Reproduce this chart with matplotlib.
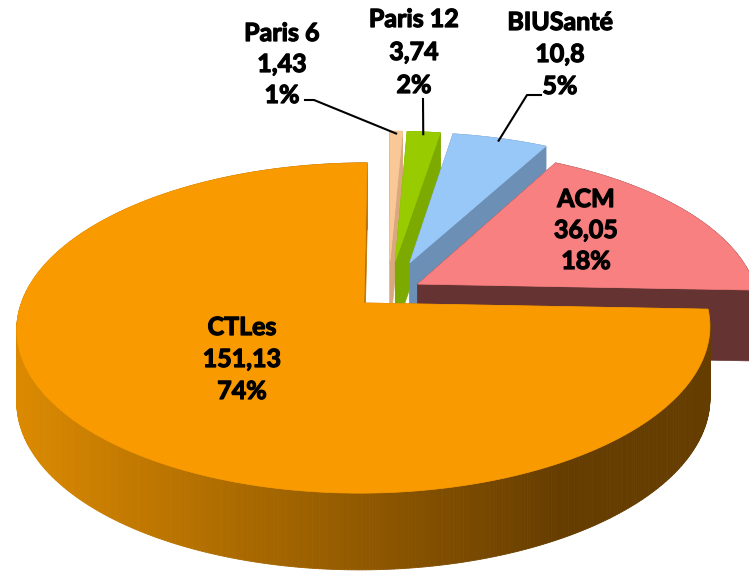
import numpy as np
import matplotlib.pyplot as plt
import matplotlib.patheffects as pe
from matplotlib.patches import Polygon

# data (order counter-clockwise from 12 o'clock)
labels = ["CTLes", "ACM", "BIUSanté", "Paris 12", "Paris 6"]
values = [151.13, 36.05, 10.8, 3.74, 1.43]
value_text = ["151,13", "36,05", "10,8", "3,74", "1,43"]
explode = [0.1, 0.1, 0.2, 0.2, 0.2]

top_colors = ["#F99A00", "#F98080", "#98C8F8", "#99CC00", "#FAC796"]
side_colors = ["#B86E00", "#663333", "#6C8FB6", "#7DAA00", "#D9A87F"]

# projection of the tilted disc (perspective) into pixel space
X0, Y0 = 388.6, 291.9
A, B, K = 339.0, 158.0, 0.15
D0, KD = 71.0, 0.07


def proj(u, v, h=0.0):
    w = 1 + K * v
    return X0 + A * u / w, Y0 - B * v / w + h * D0 / (1 + KD * v)


def face_visible(px, pv, nx, nv):
    # camera sits in front of the disc (v -> -1/K)
    return nx * (0 - px) + nv * (-1 / K - pv) > 0


def wall_color(x):
    c1 = np.array([0xDC, 0x8A, 0x00]) / 255
    c2 = np.array([0x66, 0x3D, 0x00]) / 255
    t = np.clip((x - 15) / (560 - 15), 0, 1)
    return tuple(c1 + (c2 - c1) * t)


fig = plt.figure(figsize=(7.49, 5.72), dpi=100)
ax = fig.add_axes([0, 0, 1, 1])
ax.set_xlim(0, 749)
ax.set_ylim(572, 0)
ax.axis("off")

total = sum(values)
angles = []
start = 90.0
for val in values:
    span = val / total * 360
    angles.append((start, start + span))
    start += span

slices = []
for i, (a1, a2) in enumerate(angles):
    mid = np.radians((a1 + a2) / 2)
    ou, ov = explode[i] * np.cos(mid), explode[i] * np.sin(mid)
    slices.append((i, a1, a2, ou, ov))

# far slices first
slices.sort(key=lambda s: -s[4])

for i, a1, a2, ou, ov in slices:
    th = np.radians(np.linspace(a1, a2, max(int(a2 - a1) * 2, 4)))
    ru = ou + np.cos(th)
    rv = ov + np.sin(th)

    back, front = [], []
    # cut faces
    for ang, sgn in ((a1, 1), (a2, -1)):
        t = np.radians(ang)
        nx, nv = sgn * np.sin(t), -sgn * np.cos(t)
        pu, pv = ou + 0.5 * np.cos(t), ov + 0.5 * np.sin(t)
        ex, ev = ou + np.cos(t), ov + np.sin(t)
        quad = [proj(ou, ov), proj(ex, ev), proj(ex, ev, 1), proj(ou, ov, 1)]
        if face_visible(pu, pv, nx, nv):
            front.append(quad)
        else:
            back.append(quad)

    for quad in back:
        ax.add_patch(Polygon(quad, closed=True, fc=side_colors[i],
                             ec=side_colors[i], lw=0.5))

    # outer wall, back to front
    segs = []
    for j in range(len(th) - 1):
        q = [proj(ru[j], rv[j]), proj(ru[j + 1], rv[j + 1]),
             proj(ru[j + 1], rv[j + 1], 1), proj(ru[j], rv[j], 1)]
        segs.append(((rv[j] + rv[j + 1]) / 2, q))
    segs.sort(key=lambda s: -s[0])
    for _, q in segs:
        if i == 0:
            col = wall_color((q[0][0] + q[1][0]) / 2)
        else:
            col = side_colors[i]
        ax.add_patch(Polygon(q, closed=True, fc=col, ec=col, lw=0.6))

    for quad in front:
        ax.add_patch(Polygon(quad, closed=True, fc=side_colors[i],
                             ec=side_colors[i], lw=0.5))

    pts = [proj(ou, ov)] + [proj(u, v) for u, v in zip(ru, rv)]
    ax.add_patch(Polygon(pts, closed=True, fc=top_colors[i],
                         ec=top_colors[i], lw=0.5))

# labels
pct = [f"{round(v / total * 100)}%" for v in values]
label_pos = [(242, 335), (586, 207), (560, 30), (414, 27), (282, 41)]
line_gap = [32, 31, 32, 33, 31]
bold = [pe.withStroke(linewidth=0.9, foreground="black")]
for i in range(len(values)):
    x, y = label_pos[i]
    for k, s in enumerate([labels[i], value_text[i], pct[i]]):
        ax.text(x, y + k * line_gap[i], s, ha="center", va="baseline",
                fontsize=18, fontweight="bold", family="Lato", color="black",
                path_effects=bold)

# leader lines for the small outside slices
leader_start = {2: [(541, 95), (527, 95)], 3: [(423, 99)],
                4: [(305, 100), (314, 100)]}
for i, pts in leader_start.items():
    a1, a2 = angles[i]
    mid = np.radians((a1 + a2) / 2)
    ou, ov = explode[i] * np.cos(mid), explode[i] * np.sin(mid)
    end = proj(ou + 0.98 * np.cos(mid), ov + 0.98 * np.sin(mid))
    xs = [p[0] for p in pts] + [end[0]]
    ys = [p[1] for p in pts] + [end[1]]
    ax.plot(xs, ys, color="black", lw=1.5)

fig.savefig("out.png", dpi=100)
